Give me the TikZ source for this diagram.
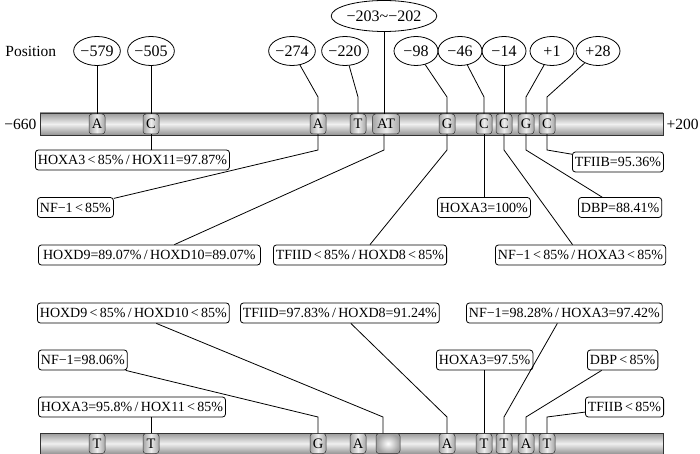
\documentclass[tikz,border=0pt]{standalone}
\usepackage{fontspec}
\setmainfont{Liberation Serif}
\usetikzlibrary{shapes.geometric}

\begin{document}
\begin{tikzpicture}[x=1pt,y=-1pt,line width=0.8pt,
    posell/.style={ellipse,draw,inner sep=0pt,minimum width=44pt,minimum height=29pt,
      font=\fontsize{16}{16}\selectfont},
    site/.style={rounded corners=3pt,draw=gray!40!black,line width=0.5pt,
      left color=gray!70,right color=gray!70,middle color=gray!15,
      minimum width=16pt,minimum height=20pt,inner sep=0pt,
      font=\fontsize{14.5}{14.5}\selectfont},
    lab/.style={rounded corners=3pt,draw,fill=white,inner xsep=2.5pt,inner ysep=0pt,
      minimum height=20pt,anchor=west,font=\fontsize{14}{16}\selectfont},
    bar/.style={draw=gray!40!black,line width=0.5pt,top color=gray!80,
      bottom color=gray!85,middle color=gray!12,minimum width=623pt,inner sep=0pt},
    endlab/.style={inner sep=3pt,font=\fontsize{15.5}{15.5}\selectfont}]
  \useasboundingbox (0,0) rectangle (700,454);

  % upper strand
  \node[bar,minimum height=22pt] (bar1) at (351.5,124) {};
  \node[endlab,anchor=east] (m660) at (bar1.west) {−660};
  \node[endlab,anchor=west] (p200) at (bar1.east) {+200};
  \node[endlab,anchor=west] (postitle) at (2,51) {Position};
  \draw
    (97,124) node[site] (t1){A}
    (151,124) node[site] (t2){C}
    (318,124) node[site] (t3){A}
    (358,124) node[site] (t4){T}
    (386,124) node[site,minimum width=27pt] (t5){AT}
    (447,124) node[site] (t6){G}
    (484,124) node[site] (t7){C}
    (504,124) node[site] (t8){C}
    (526,124) node[site] (t9){G}
    (547,124) node[site] (t10){C};
  \draw
    (97,51) node[posell] (p1){−579}
    (151,51) node[posell] (p2){−505}
    (292,51) node[posell] (p3){−274}
    (345,51) node[posell] (p4){−220}
    (384,16) node[posell,minimum width=84pt,minimum height=31pt] (p5){−203\textasciitilde−202}
    (416,51) node[posell] (p6){−98}
    (460,51) node[posell] (p7){−46}
    (504,51) node[posell] (p8){−14}
    (552,51) node[posell] (p9){+1}
    (598,51) node[posell] (p10){+28};
  \draw
    (35,160) node[lab] (L1){HOXA3\,<\,85\%\,/\,HOX11=97.87\%}
    (37,207.5) node[lab] (L2){NF−1\,<\,85\%}
    (38,255) node[lab,minimum width=222pt] (L3){HOXD9=89.07\%\,/\,HOXD10=89.07\%}
    (273,255) node[lab] (L4){TFIID\,<\,85\%\,/\,HOXD8\,<\,85\%}
    (437,207.5) node[lab] (L5){HOXA3=100\%}
    (495,255) node[lab] (L6){NF−1\,<\,85\%\,/\,HOXA3\,<\,85\%}
    (578,207.5) node[lab] (L7){DBP=88.41\%}
    (572,162) node[lab] (L8){TFIIB=95.36\%};

  \begin{scope}
    \draw (p1) -- (t1);
    \draw (p2) -- (t2);
    \draw (p3) -- (t3 |- 0,97) -- (t3);
    \draw (p4) -- (t4 |- 0,97) -- (t4);
    \draw (p5) -- (p5 |- t5.north);
    \draw (p6) -- (t6 |- 0,97) -- (t6);
    \draw (p7) -- (t7 |- 0,97) -- (t7);
    \draw (p8) -- (t8);
    \draw (p9) -- (t9 |- 0,97) -- (t9);
    \draw (p10) -- (t10 |- 0,97) -- (t10);
    \draw (t2) -- (t2 |- L1.north);
    \draw (t3) -- (t3 |- 0,150) -- (L2);
    \draw (p5 |- t5.south) -- (p5 |- 0,150) -- ([xshift=25pt]L3.north);
    \draw (t6) -- (t6 |- 0,150) -- ([xshift=10pt]L4.north);
    \draw (t7) -- (t7 |- L5.north);
    \draw (t8) -- (t8 |- 0,150) -- ([xshift=-8pt]L6.north);
    \draw (t9) -- (t9 |- 0,150) -- ([xshift=-18pt]L7.north);
    \draw (t10) -- (t10 |- 0,150) -- (L8);
  \end{scope}

  % lower strand
  \node[bar,minimum height=21pt] (bar2) at (351.5,443.5) {};
  \draw
    (97,443.5) node[site] (b1){T}
    (151,443.5) node[site] (b2){T}
    (318,443.5) node[site] (b3){G}
    (358,443.5) node[site] (b4){A}
    (388,443.5) node[site,minimum width=24pt,inner color=white,outer color=gray!75] (b5){}
    (447,443.5) node[site] (b6){A}
    (484,443.5) node[site] (b7){T}
    (504,443.5) node[site] (b8){T}
    (526,443.5) node[site] (b9){A}
    (547,443.5) node[site] (b10){T};
  \draw
    (38,407) node[lab] (B1){HOXA3=95.8\%\,/\,HOX11\,<\,85\%}
    (38,360) node[lab] (B2){NF−1=98.06\%}
    (37,313) node[lab] (B3){HOXD9\,<\,85\%\,/\,HOXD10\,<\,85\%}
    (240,313) node[lab] (B4){TFIID=97.83\%\,/\,HOXD8=91.24\%}
    (466,313) node[lab] (B5){NF−1=98.28\%\,/\,HOXA3=97.42\%}
    (436,360) node[lab] (B6){HOXA3=97.5\%}
    (587,360) node[lab] (B7){DBP\,<\,85\%}
    (585,407) node[lab] (B8){TFIIB\,<\,85\%};

  \begin{scope}
    \draw (b2) -- (b2 |- B1.south);
    \draw (b3) -- (b3 |- 0,417) -- (B2);
    \draw (b5.north -| 383,0) -- (383,417) -- ([xshift=23pt]B3.south);
    \draw (b6) -- (b6 |- 0,417) -- ([xshift=11pt]B4.south);
    \draw (b7) -- (b7 |- B6.south);
    \draw (b8) -- (b8 |- 0,417) -- ([xshift=-7pt]B5.south);
    \draw (b9) -- (b9 |- 0,417) -- ([xshift=-21pt]B7.south);
    \draw (b10) -- (b10 |- 0,417) -- (B8);
  \end{scope}
\end{tikzpicture}
\end{document}
